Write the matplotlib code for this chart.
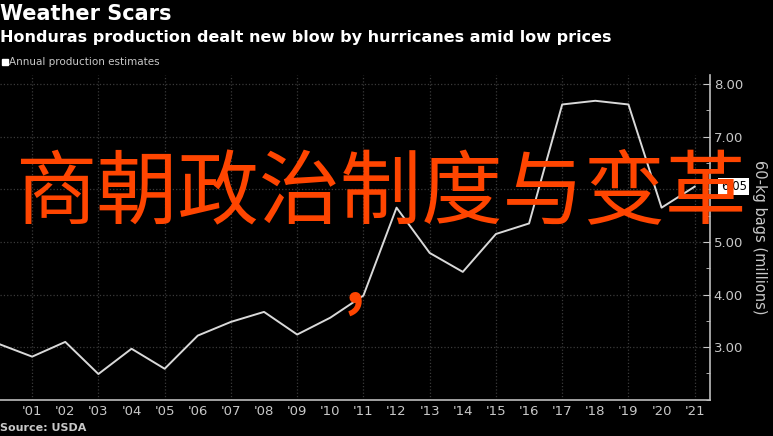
import matplotlib as mpl
mpl.use('Agg')
from matplotlib import pyplot as plt
from matplotlib.ticker import MultipleLocator
import numpy as np

# annual production estimates, 60-kg bags (millions)
years = np.arange(2000, 2022)
production = [3.06, 2.82, 3.10, 2.49, 2.97, 2.59, 3.22, 3.48, 3.67, 3.24, 3.56,
              3.98, 5.65, 4.79, 4.43, 5.15, 5.35, 7.61, 7.68, 7.61, 5.65, 6.05]
tick_years = list(range(2001, 2022))
tick_labels = ["'%02d" % (y % 100) for y in tick_years]
last_label = '6.05'

title = 'Weather Scars'
subtitle = 'Honduras production dealt new blow by hurricanes amid low prices'
legend_text = 'Annual production estimates'
source = 'Source: USDA'
overlay = '商朝政治制度与变革'

plt.rcParams['font.family'] = ['DejaVu Sans']
fg = '#c8c8c8'

fig = plt.figure(figsize=(7.73, 4.36), dpi=100, facecolor='black')
ax = fig.add_axes([0.0, 0.083, 0.918, 0.745])
ax.set_facecolor('black')

ax.plot(years, production, '-', color='#d9d9d9', lw=1.4, zorder=3)
ax.set_xlim(2000.03, 2021.45)
ax.set_ylim(2.0, 8.17)

ax.set_xticks(tick_years)
ax.set_xticklabels(tick_labels)
ax.set_yticks([3, 4, 5, 6, 7, 8])
ax.set_yticklabels(['3.00', '4.00', '5.00', '', '7.00', '8.00'])
ax.yaxis.set_minor_locator(MultipleLocator(0.5))
ax.yaxis.tick_right()
ax.yaxis.set_label_position('right')
ax.tick_params(axis='x', colors=fg, labelsize=9.5, length=0, pad=4)
ax.tick_params(axis='y', which='both', colors=fg, labelsize=9.5, direction='in', pad=3)
ax.tick_params(axis='y', which='major', length=5)
ax.tick_params(axis='y', which='minor', length=3)

for spine in ['top', 'left']:
    ax.spines[spine].set_visible(False)
for spine in ['bottom', 'right']:
    ax.spines[spine].set_color('#bdbdbd')
    ax.spines[spine].set_linewidth(1.2)

ax.grid(axis='y', which='major', color='#3a3a3a', ls=':', lw=0.9)
for y in tick_years[::2]:
    ax.axvline(y, color='#3a3a3a', ls=':', lw=0.9, zorder=0)

ax.set_ylabel('60-kg bags (millions)', color=fg, fontsize=10.5, rotation=270, labelpad=17)

# last value label on the right axis
ax.annotate(last_label, xy=(1.0, production[-1]), xycoords=('axes fraction', 'data'),
            xytext=(8, 0), textcoords='offset points', va='center', ha='left',
            fontsize=8.5, color='black',
            bbox=dict(boxstyle='square,pad=0.2', fc='white', ec='none'))

fig.text(0.0, 0.968, title, color='white', fontsize=15, fontweight='bold', va='center')
fig.text(0.0, 0.914, subtitle, color='white', fontsize=11.5, fontweight='bold', va='center')
fig.text(0.012, 0.857, legend_text, color=fg, fontsize=7.5, va='center')
fig.patches.append(plt.Rectangle((0.002, 0.85), 0.008, 0.015, color='white',
                                 transform=fig.transFigure, figure=fig))
fig.text(0.0, 0.018, source, color=fg, fontsize=8, fontweight='bold', va='center')

# overlay caption
fig.text(0.019, 0.555, overlay, color='#ff4500', fontsize=58.5, fontweight='medium',
         va='center', ha='left', family=['Noto Sans CJK SC', 'DejaVu Sans'], zorder=10)
fig.text(0.459, 0.345, ',', color='#ff4500', fontsize=44, fontweight='bold', va='center', ha='center',
         family=['Noto Sans CJK SC', 'DejaVu Sans'], zorder=10)

fig.savefig('out.png', dpi=100, facecolor='black')
